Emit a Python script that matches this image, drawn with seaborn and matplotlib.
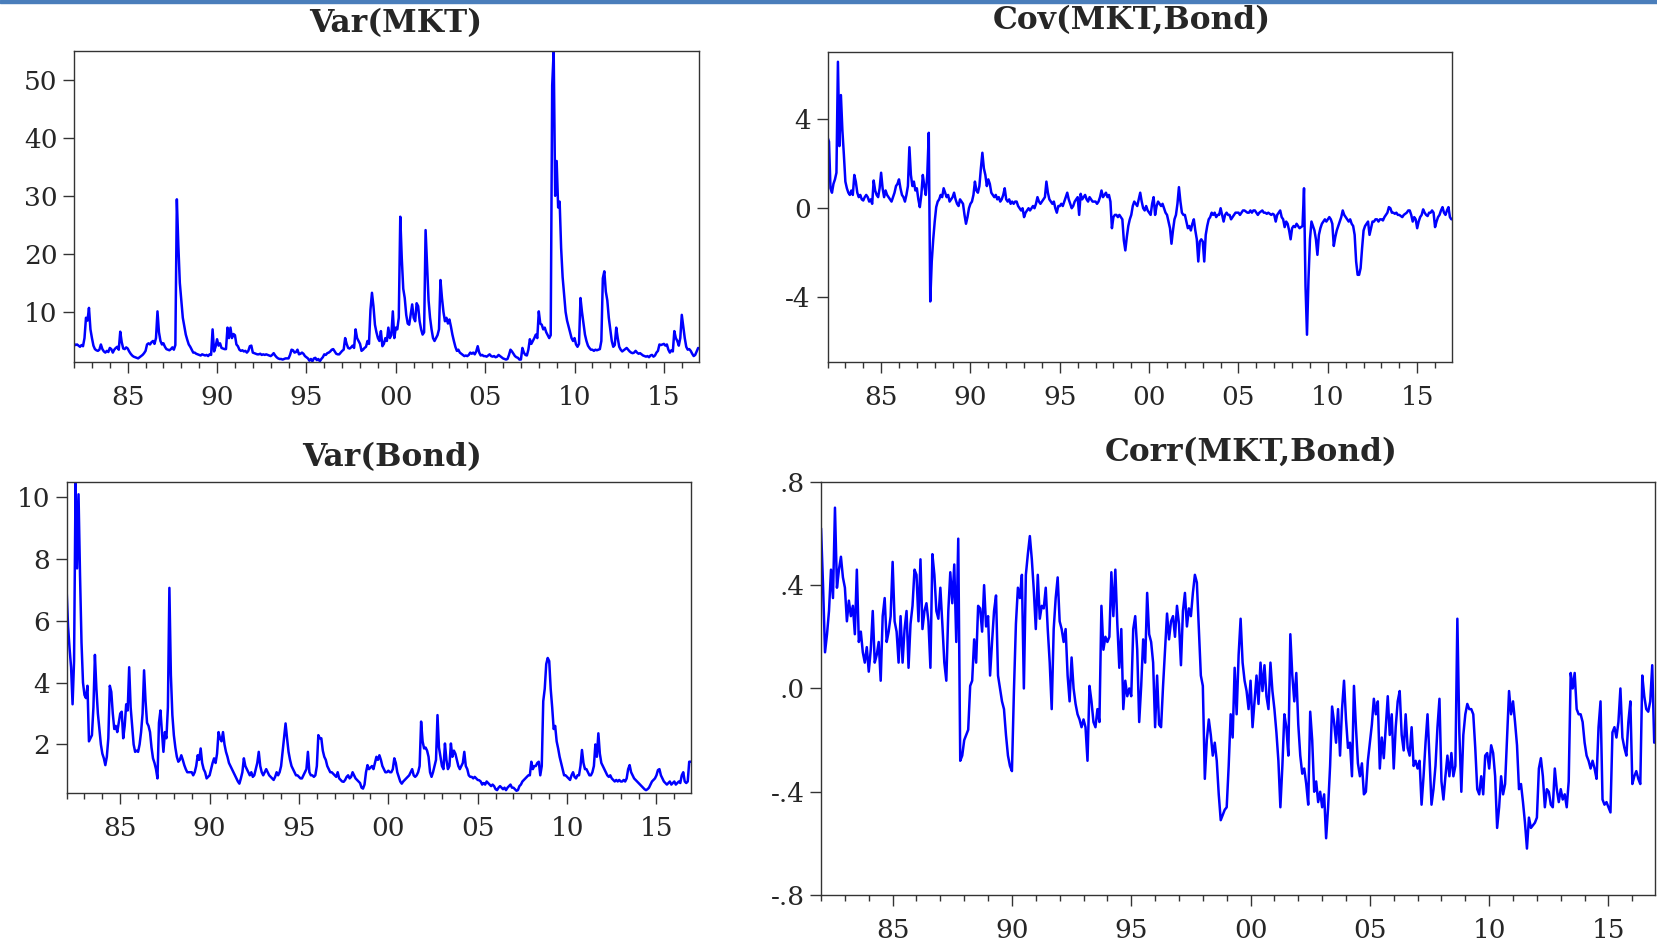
import matplotlib
matplotlib.use('Agg')
import matplotlib.pyplot as plt
from matplotlib.ticker import FixedLocator, MultipleLocator
import seaborn as sns
import pandas as pd

# monthly observations, Jan 1982 - Dec 2016 (one row per year)
years = list(range(1982, 2017))

var_mkt = [
    4.5, 4.3, 4.4, 4.2, 4.0, 4.3, 4.1, 5.5, 9.0, 8.5, 10.7, 7.0,
    5.5, 4.2, 3.6, 3.4, 3.3, 3.5, 4.4, 3.6, 3.2, 3.0, 3.3, 3.1,
    3.8, 3.6, 3.0, 3.5, 3.8, 4.0, 3.5, 6.6, 4.8, 3.7, 3.6, 3.9,
    3.7, 3.2, 2.8, 2.5, 2.3, 2.2, 2.1, 2.0, 2.2, 2.4, 2.6, 2.9,
    3.3, 4.4, 4.6, 4.4, 4.8, 5.0, 4.5, 5.5, 10.1, 6.5, 5.0, 4.4,
    4.6, 4.0, 3.6, 3.5, 3.4, 3.6, 3.9, 3.5, 4.3, 29.4, 21.5, 15.0,
    12.0, 9.0, 7.5, 6.1, 5.2, 4.4, 4.0, 3.5, 3.0, 3.0, 2.8, 2.7,
    2.6, 2.5, 2.7, 2.6, 2.5, 2.6, 2.4, 2.7, 2.6, 7.0, 3.2, 4.0,
    5.3, 4.2, 4.6, 3.8, 3.7, 3.6, 3.6, 7.3, 5.5, 7.3, 5.5, 6.2,
    6.0, 4.4, 4.1, 3.5, 3.3, 3.4, 3.2, 3.3, 3.0, 3.3, 4.1, 4.2,
    3.0, 2.9, 2.8, 2.7, 2.7, 2.8, 2.6, 2.7, 2.6, 2.7, 2.6, 2.5,
    2.4, 2.6, 2.9, 2.5, 2.2, 2.0, 1.9, 1.9, 1.8, 1.9, 2.0, 2.0,
    2.0, 2.6, 3.5, 3.4, 3.0, 3.1, 3.5, 2.7, 2.8, 3.0, 2.8, 2.4,
    2.2, 2.0, 1.6, 1.9, 1.5, 2.0, 2.1, 1.7, 1.9, 1.5, 1.9, 2.2,
    2.7, 2.6, 2.9, 3.0, 3.2, 3.5, 3.6, 3.2, 2.8, 2.7, 2.7, 3.0,
    3.3, 3.5, 5.5, 4.5, 3.8, 3.7, 3.9, 4.2, 3.8, 7.0, 5.5, 5.0,
    4.5, 3.3, 3.5, 3.8, 4.0, 5.0, 4.5, 10.4, 13.3, 11.0, 7.8, 6.5,
    5.5, 5.0, 6.7, 4.1, 4.5, 5.5, 5.0, 7.3, 5.5, 6.0, 10.1, 5.5,
    7.3, 7.0, 9.0, 26.4, 19.3, 14.0, 12.4, 9.5, 8.0, 7.8, 9.5, 11.3,
    9.0, 8.4, 11.5, 11.0, 8.4, 7.0, 6.1, 6.5, 24.1, 18.0, 12.0, 9.0,
    7.0, 5.5, 5.0, 5.5, 6.0, 7.0, 15.5, 12.4, 10.0, 8.4, 9.0, 8.0,
    8.7, 7.5, 6.1, 5.0, 4.0, 3.3, 3.5, 3.0, 2.8, 2.6, 2.4, 2.5,
    2.4, 2.6, 3.0, 2.8, 3.0, 2.7, 3.2, 4.1, 3.0, 2.5, 2.6, 2.4,
    2.4, 2.3, 2.5, 2.7, 2.4, 2.3, 2.4, 2.2, 2.3, 2.6, 2.4, 2.2,
    2.0, 1.9, 1.8, 1.9, 2.6, 3.5, 3.2, 2.8, 2.4, 2.2, 2.1, 1.8,
    1.8, 3.8, 3.0, 2.6, 2.5, 3.5, 5.3, 4.5, 5.0, 5.5, 6.1, 5.5,
    10.1, 8.0, 7.8, 7.0, 7.3, 6.5, 6.0, 5.5, 6.0, 49.0, 55.0, 30.0,
    36.0, 28.0, 29.0, 21.0, 16.0, 13.0, 10.0, 8.5, 7.5, 6.5, 5.5, 5.0,
    5.5, 4.4, 4.0, 4.5, 12.4, 10.0, 8.0, 6.1, 5.0, 4.2, 3.8, 3.5,
    3.5, 3.3, 3.5, 3.4, 3.5, 3.6, 5.0, 15.8, 17.0, 13.5, 12.0, 9.0,
    7.0, 5.0, 4.0, 4.3, 7.3, 5.5, 4.0, 3.5, 3.2, 3.4, 3.6, 3.8,
    3.5, 3.2, 3.0, 2.9, 3.0, 3.3, 3.0, 2.8, 2.9, 2.7, 2.5, 2.4,
    2.3, 2.4, 2.2, 2.5, 2.6, 2.3, 2.5, 3.0, 3.3, 4.4, 4.3, 4.4,
    4.5, 4.2, 4.4, 3.5, 3.0, 3.4, 3.2, 6.7, 5.5, 5.0, 4.2, 5.5,
    9.5, 7.5, 5.5, 4.0, 3.5, 3.6, 3.3, 2.8, 2.4, 2.6, 3.2, 3.8,
]

cov_mkt_bond = [
    3.2, 3.0, 0.9, 0.7, 1.1, 1.3, 1.6, 6.6, 2.8, 5.1, 3.5, 2.4,
    1.2, 0.9, 0.7, 0.6, 0.8, 0.6, 1.5, 1.2, 0.7, 0.5, 0.6, 0.4,
    0.35, 0.5, 0.6, 0.5, 0.3, 0.4, 0.2, 1.25, 0.8, 0.6, 0.5, 0.9,
    1.6, 0.9, 0.5, 0.8, 0.6, 0.5, 0.4, 0.3, 0.5, 0.7, 1.0, 1.1,
    1.3, 0.9, 0.6, 0.5, 0.3, 0.6, 1.0, 2.75, 1.5, 1.0, 1.2, 0.8,
    0.9, 0.4, 0.05, 0.6, 1.5, 1.0, 0.6, 1.5, 3.4, -4.2, -2.4, -1.4,
    -0.6, 0.05, 0.3, 0.4, 0.6, 0.5, 0.9, 0.7, 0.5, 0.6, 0.3, 0.4,
    0.5, 0.7, 0.4, 0.2, 0.1, 0.4, 0.3, 0.2, -0.3, -0.7, -0.4, 0.0,
    0.2, 0.3, 0.6, 1.2, 0.8, 0.7, 1.0, 1.8, 2.5, 1.8, 1.5, 1.0,
    1.3, 1.1, 0.7, 0.6, 0.5, 0.6, 0.4, 0.5, 0.3, 0.4, 0.6, 0.9,
    0.4, 0.3, 0.4, 0.2, 0.3, 0.2, 0.3, 0.3, 0.1, 0.0, -0.1, 0.0,
    -0.4, -0.2, -0.1, 0.0, -0.1, 0.0, 0.1, 0.0, 0.2, 0.5, 0.3, 0.2,
    0.3, 0.4, 0.5, 1.2, 0.7, 0.4, 0.3, 0.2, 0.3, 0.0, -0.2, 0.1,
    0.1, 0.2, 0.1, 0.3, 0.5, 0.7, 0.4, 0.2, 0.0, 0.1, 0.3, 0.4,
    0.5, -0.3, 0.65, 0.4, 0.5, 0.6, 0.4, 0.3, 0.5, 0.4, 0.3, 0.3,
    0.3, 0.2, 0.3, 0.5, 0.8, 0.5, 0.6, 0.7, 0.5, 0.6, 0.3, -0.9,
    -0.4, -0.3, -0.3, -0.4, -0.3, -0.4, -0.5, -1.45, -1.9, -1.3, -0.8, -0.5,
    -0.3, 0.1, 0.3, 0.2, 0.1, 0.4, 0.7, 0.3, 0.0, -0.1, 0.1, -0.1,
    -0.2, -0.3, 0.2, 0.5, -0.3, 0.1, 0.3, 0.2, 0.1, 0.2, 0.0, -0.2,
    -0.3, -0.6, -0.9, -1.6, -1.0, -0.5, -0.3, 0.2, 0.95, 0.3, -0.2, -0.3,
    -0.3, -0.6, -0.9, -0.8, -1.0, -0.7, -0.5, -1.0, -1.4, -2.4, -1.5, -1.4,
    -1.5, -2.4, -1.2, -0.8, -0.5, -0.4, -0.2, -0.3, -0.2, -0.4, -0.3, -0.3,
    0.0, -0.3, -0.6, -0.3, -0.2, -0.3, -0.3, -0.5, -0.4, -0.3, -0.2, -0.2,
    -0.2, -0.3, -0.2, -0.1, -0.1, -0.15, -0.2, -0.2, -0.1, -0.2, -0.1, -0.1,
    -0.2, -0.3, -0.2, -0.15, -0.1, -0.2, -0.2, -0.25, -0.2, -0.25, -0.3, -0.25,
    -0.3, -0.6, -0.3, -0.2, -0.1, -0.4, -0.5, -0.85, -0.6, -0.7, -1.0, -1.4,
    -0.9, -0.8, -0.85, -0.7, -0.8, -0.9, -0.85, -0.8, 0.9, -3.5, -5.7, -3.2,
    -1.4, -0.6, -0.8, -1.0, -1.4, -2.1, -1.2, -0.9, -0.7, -0.6, -0.5, -0.6,
    -0.5, -0.4, -0.5, -0.7, -1.7, -1.3, -1.0, -0.8, -0.6, -0.4, -0.1, -0.3,
    -0.4, -0.5, -0.6, -0.5, -0.7, -0.8, -1.2, -2.4, -3.0, -3.0, -2.7, -1.8,
    -1.0, -0.8, -0.7, -0.6, -1.2, -0.9, -0.6, -0.6, -0.5, -0.5, -0.6, -0.5,
    -0.5, -0.55, -0.4, -0.3, -0.2, 0.05, 0.0, -0.2, -0.2, -0.25, -0.2, -0.3,
    -0.3, -0.35, -0.4, -0.3, -0.25, -0.2, -0.1, -0.1, -0.3, -0.6, -0.4, -0.5,
    -0.9, -0.6, -0.4, -0.3, -0.05, -0.2, -0.3, -0.35, -0.2, -0.2, -0.1, -0.2,
    -0.85, -0.6, -0.4, -0.3, -0.1, 0.05, -0.2, -0.3, -0.1, 0.05, -0.4, -0.5,
]

var_bond = [
    7.0, 5.8, 5.1, 4.5, 3.3, 4.7, 10.5, 7.7, 10.1, 7.5, 5.3, 4.0,
    3.6, 3.5, 3.9, 2.1, 2.2, 2.3, 3.2, 4.9, 3.8, 3.0, 2.5, 2.0,
    1.7, 1.55, 1.33, 1.6, 2.2, 3.9, 3.7, 3.0, 2.5, 2.6, 2.4, 2.7,
    3.0, 3.06, 2.2, 2.6, 3.3, 3.1, 4.5, 3.2, 2.6, 2.0, 1.76, 1.8,
    1.76, 2.0, 2.4, 3.0, 4.4, 3.4, 2.7, 2.6, 2.4, 1.9, 1.55, 1.4,
    1.2, 0.9, 2.7, 3.1, 2.4, 1.76, 2.4, 2.2, 3.2, 7.07, 4.25, 2.95,
    2.3, 1.9, 1.6, 1.44, 1.5, 1.65, 1.5, 1.33, 1.2, 1.1, 1.1, 1.1,
    1.1, 1.0, 1.1, 1.3, 1.65, 1.5, 1.87, 1.4, 1.2, 1.1, 0.9, 0.95,
    1.0, 1.2, 1.4, 1.55, 1.4, 1.7, 2.4, 2.2, 2.1, 2.4, 2.0, 1.76,
    1.6, 1.4, 1.3, 1.2, 1.1, 1.0, 0.9, 0.8, 0.73, 0.9, 1.1, 1.55,
    1.3, 1.2, 1.1, 1.0, 1.1, 0.95, 1.0, 1.2, 1.4, 1.76, 1.3, 1.1,
    1.0, 1.1, 1.2, 1.1, 1.0, 0.95, 0.9, 0.85, 0.95, 1.1, 1.0, 1.1,
    1.3, 1.76, 2.2, 2.68, 2.2, 1.76, 1.5, 1.3, 1.2, 1.1, 1.0, 1.0,
    0.95, 0.9, 0.9, 1.0, 1.1, 1.2, 1.76, 1.1, 1.0, 1.0, 0.95, 1.0,
    1.3, 2.3, 2.2, 2.2, 1.8, 1.6, 1.5, 1.3, 1.2, 1.1, 1.1, 1.05,
    1.0, 0.95, 1.1, 0.9, 0.85, 0.8, 0.79, 0.85, 0.95, 1.0, 0.9, 0.95,
    1.1, 1.0, 0.9, 0.85, 0.8, 0.75, 0.6, 0.57, 0.7, 1.1, 1.33, 1.2,
    1.25, 1.3, 1.2, 1.4, 1.6, 1.5, 1.65, 1.5, 1.3, 1.2, 1.1, 1.1,
    1.15, 1.1, 1.1, 1.2, 1.55, 1.4, 1.1, 0.95, 0.8, 0.73, 0.8, 0.85,
    0.9, 0.95, 1.0, 1.1, 1.2, 1.0, 0.95, 1.0, 1.1, 1.3, 2.74, 2.1,
    1.87, 1.9, 1.8, 1.6, 1.1, 0.95, 1.1, 1.3, 1.5, 2.95, 1.9, 1.6,
    1.3, 1.2, 2.03, 1.5, 1.2, 1.3, 2.03, 1.6, 1.8, 1.7, 1.5, 1.3,
    1.2, 1.3, 1.4, 1.76, 1.3, 1.2, 1.0, 0.95, 0.95, 0.9, 0.95, 0.9,
    0.85, 0.84, 0.8, 0.7, 0.75, 0.7, 0.8, 0.75, 0.7, 0.65, 0.7, 0.65,
    0.55, 0.52, 0.6, 0.65, 0.6, 0.55, 0.6, 0.52, 0.6, 0.65, 0.7, 0.6,
    0.6, 0.55, 0.5, 0.52, 0.65, 0.7, 0.8, 0.85, 0.9, 0.95, 1.0, 1.0,
    1.44, 1.2, 1.3, 1.3, 1.4, 1.44, 1.0, 1.3, 3.4, 3.8, 4.6, 4.8,
    4.7, 3.8, 3.2, 2.5, 2.6, 2.1, 1.87, 1.6, 1.4, 1.2, 1.0, 1.0,
    0.95, 0.9, 0.85, 1.0, 1.1, 0.95, 0.9, 1.0, 1.0, 1.3, 1.82, 1.4,
    1.2, 1.2, 1.1, 1.0, 1.0, 1.1, 1.3, 2.0, 1.6, 2.36, 1.7, 1.4,
    1.3, 1.2, 1.1, 1.0, 0.95, 1.0, 0.9, 0.85, 0.8, 0.85, 0.8, 0.85,
    0.8, 0.8, 0.85, 0.8, 0.9, 1.2, 1.33, 1.1, 1.0, 0.9, 0.85, 0.8,
    0.75, 0.7, 0.65, 0.6, 0.55, 0.52, 0.55, 0.6, 0.7, 0.8, 0.85, 0.9,
    1.0, 1.17, 1.2, 1.0, 0.9, 0.8, 0.75, 0.7, 0.75, 0.8, 0.7, 0.75,
    0.8, 0.7, 0.75, 0.8, 0.75, 1.0, 1.1, 0.8, 0.75, 0.8, 1.44, 1.44,
]

corr_mkt_bond = [
    0.62, 0.40, 0.14, 0.21, 0.30, 0.46, 0.35, 0.70, 0.39, 0.46, 0.51, 0.43,
    0.39, 0.26, 0.34, 0.28, 0.32, 0.21, 0.46, 0.18, 0.22, 0.14, 0.10, 0.16,
    0.065, 0.15, 0.30, 0.10, 0.13, 0.18, 0.03, 0.28, 0.35, 0.18, 0.22, 0.28,
    0.49, 0.26, 0.22, 0.10, 0.28, 0.10, 0.23, 0.30, 0.08, 0.25, 0.32, 0.46,
    0.44, 0.26, 0.50, 0.23, 0.30, 0.33, 0.26, 0.08, 0.52, 0.44, 0.30, 0.27,
    0.39, 0.25, 0.10, 0.03, 0.30, 0.45, 0.33, 0.48, 0.18, 0.58, -0.28, -0.26,
    -0.20, -0.18, -0.16, 0.01, 0.03, 0.19, 0.10, 0.32, 0.31, 0.22, 0.40, 0.24,
    0.28, 0.05, 0.18, 0.30, 0.36, 0.05, 0.00, -0.05, -0.08, -0.18, -0.26, -0.30,
    -0.32, -0.01, 0.25, 0.39, 0.35, 0.44, 0.00, 0.44, 0.52, 0.59, 0.50, 0.38,
    0.23, 0.44, 0.27, 0.32, 0.31, 0.39, 0.23, 0.10, -0.08, 0.23, 0.35, 0.43,
    0.26, 0.23, 0.18, 0.23, 0.05, -0.05, 0.12, 0.00, -0.06, -0.10, -0.12, -0.15,
    -0.12, -0.15, -0.28, 0.01, -0.05, -0.13, -0.15, -0.08, -0.13, 0.32, 0.15, 0.20,
    0.18, 0.20, 0.45, 0.28, 0.46, 0.25, 0.08, 0.23, -0.08, 0.03, -0.03, 0.00,
    -0.03, 0.23, 0.28, 0.15, -0.13, 0.01, 0.19, 0.10, 0.37, 0.21, 0.18, 0.10,
    -0.15, 0.05, -0.14, -0.15, 0.01, 0.15, 0.29, 0.19, 0.26, 0.28, 0.20, 0.32,
    0.25, 0.09, 0.30, 0.37, 0.24, 0.31, 0.28, 0.37, 0.44, 0.41, 0.23, 0.05,
    0.01, -0.35, -0.20, -0.12, -0.18, -0.26, -0.21, -0.28, -0.41, -0.51, -0.49, -0.47,
    -0.46, -0.30, -0.10, -0.19, 0.08, -0.10, 0.13, 0.27, 0.10, 0.03, -0.01, -0.08,
    0.03, -0.15, -0.05, 0.05, -0.06, 0.10, -0.01, 0.09, -0.03, -0.08, 0.10, -0.01,
    -0.08, -0.17, -0.28, -0.46, -0.30, -0.10, -0.15, -0.26, 0.21, 0.05, -0.05, 0.06,
    -0.14, -0.26, -0.33, -0.31, -0.37, -0.45, -0.09, -0.20, -0.40, -0.36, -0.44, -0.40,
    -0.46, -0.41, -0.58, -0.46, -0.30, -0.07, -0.13, -0.21, -0.08, -0.26, -0.08, 0.03,
    -0.12, -0.23, -0.21, -0.34, 0.01, -0.15, -0.29, -0.34, -0.29, -0.41, -0.40, -0.28,
    -0.21, -0.14, -0.04, -0.10, -0.05, -0.31, -0.19, -0.27, -0.15, -0.03, -0.18, -0.10,
    -0.31, -0.15, -0.05, -0.01, -0.18, -0.24, -0.10, -0.23, -0.26, -0.15, -0.30, -0.28,
    -0.31, -0.28, -0.45, -0.34, -0.21, -0.10, -0.27, -0.45, -0.39, -0.30, -0.15, -0.04,
    -0.36, -0.43, -0.34, -0.26, -0.34, -0.25, -0.34, -0.30, 0.27, -0.17, -0.40, -0.18,
    -0.10, -0.06, -0.08, -0.08, -0.10, -0.23, -0.39, -0.41, -0.34, -0.41, -0.26, -0.25,
    -0.31, -0.22, -0.25, -0.34, -0.54, -0.46, -0.34, -0.41, -0.37, -0.19, -0.01, -0.10,
    -0.05, -0.13, -0.22, -0.39, -0.37, -0.44, -0.52, -0.62, -0.50, -0.54, -0.53, -0.52,
    -0.50, -0.31, -0.27, -0.34, -0.46, -0.39, -0.40, -0.45, -0.46, -0.31, -0.39, -0.44,
    -0.39, -0.43, -0.41, -0.46, -0.36, 0.06, 0.00, 0.06, -0.08, -0.10, -0.10, -0.13,
    -0.21, -0.26, -0.28, -0.31, -0.28, -0.31, -0.35, -0.15, -0.05, -0.43, -0.45, -0.44,
    -0.46, -0.48, -0.17, -0.15, -0.19, -0.13, 0.00, -0.19, -0.23, -0.26, -0.13, -0.05,
    -0.37, -0.34, -0.32, -0.35, -0.37, 0.05, -0.03, -0.08, -0.09, -0.05, 0.09, -0.21,
]

year_ticks = [1985, 1990, 1995, 2000, 2005, 2010, 2015]
year_labels = ['85', '90', '95', '00', '05', '10', '15']

# decimal-year time index
t = [y + m / 12 for y in years for m in range(12)]
df = pd.DataFrame({'t': t, 'var_mkt': var_mkt, 'cov': cov_mkt_bond,
                   'var_bond': var_bond, 'corr': corr_mkt_bond})

sns.set_style('ticks')
plt.rcParams['font.family'] = 'DejaVu Serif'

fig = plt.figure(figsize=(16.57, 9.4), dpi=100)

# panel: column, title, title position, axes rect, y limits, y ticks, y tick labels
panels = [
    ('var_mkt', 'Var(MKT)', (0.2390, 0.9745), [0.0447, 0.6144, 0.3770, 0.3317],
     (1.3, 55), [10, 20, 30, 40, 50], ['10', '20', '30', '40', '50']),
    ('cov', 'Cov(MKT,Bond)', (0.6831, 0.9785), [0.4994, 0.6144, 0.3769, 0.3305],
     (-6.95, 7.05), [-4, 0, 4], ['-4', '0', '4']),
    ('var_bond', 'Var(Bond)', (0.2369, 0.5135), [0.0402, 0.1568, 0.3770, 0.3305],
     (0.44, 10.5), [2, 4, 6, 8, 10], ['2', '4', '6', '8', '10']),
    ('corr', 'Corr(MKT,Bond)', (0.7548, 0.5185), [0.4955, 0.0478, 0.5033, 0.4396],
     (-0.8, 0.8), [-0.8, -0.4, 0.0, 0.4, 0.8], ['-.8', '-.4', '.0', '.4', '.8']),
]

for col, title, tpos, rect, ylim, yt, ytl in panels:
    ax = fig.add_axes(rect)
    sns.lineplot(data=df, x='t', y=col, ax=ax, color='#0000ff', linewidth=1.8)
    ax.set_xlim(1982.0, 2016.95)
    ax.set_ylim(*ylim)
    ax.set_xlabel('')
    ax.set_ylabel('')
    ax.xaxis.set_major_locator(FixedLocator(year_ticks))
    ax.set_xticklabels(year_labels)
    ax.xaxis.set_minor_locator(MultipleLocator(1))
    ax.set_yticks(yt)
    ax.set_yticklabels(ytl)
    ax.tick_params(axis='x', which='major', direction='out', length=8, width=1,
                   pad=8.5, labelsize=19, color='#333333')
    ax.tick_params(axis='x', which='minor', direction='out', length=4.3, width=1,
                   color='#333333')
    ax.tick_params(axis='y', which='major', direction='out', length=8, width=1,
                   pad=4, labelsize=19, color='#333333')
    for s in ax.spines.values():
        s.set_visible(True)
        s.set_color('#333333')
        s.set_linewidth(1.0)
    fig.text(tpos[0], tpos[1], title, ha='center', va='center',
             fontsize=22.5, fontweight='bold')

# thin blue strip along the top edge of the page
fig.add_artist(plt.Rectangle((0, 1 - 3 / 940), 1, 3 / 940, transform=fig.transFigure,
                             color='#4a7ebb', zorder=10))

fig.savefig('out.png', dpi=100)
